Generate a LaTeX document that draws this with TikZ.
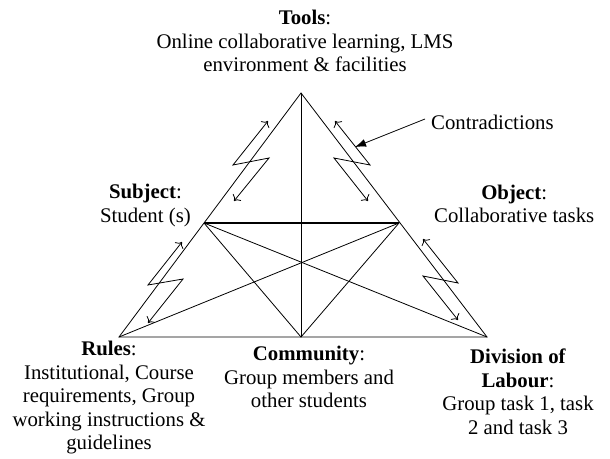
\documentclass[tikz,border=0pt]{standalone}
\usepackage{fontspec}
\setmainfont{Liberation Serif}
\usetikzlibrary{arrows.meta, positioning}

\begin{document}
\begin{tikzpicture}[
	x=1pt, y=-1pt,
	txt/.style={align=center, inner sep=0pt, font=\fontsize{20.8}{23.5}\selectfont},
	edge/.style={line width=0.8pt},
	bolt/.style={<->, line width=0.8pt, >={To[scale=1.5]}},
	]
	\useasboundingbox (0,0) rectangle (610,458);

	% corners of the activity system
	\coordinate (tools) at (301,93);
	\coordinate (subject) at (204,223);
	\coordinate (object) at (399,223);
	\coordinate (rules) at (119,337);
	\coordinate (community) at (301,337);
	\coordinate (division) at (487,337);

	\node (toolslbl) [txt, above=21pt of tools, xshift=4pt] {\textbf{Tools}:\\Online collaborative learning, LMS\\environment \& facilities};
	\node (subjectlbl) [txt, above left=-4pt and 13pt of subject] {\textbf{Subject}:\\Student (s)};
	\node (objectlbl) [txt, above right=0pt and 35pt of object] {\textbf{Object}:\\Collaborative tasks};
	\node (ruleslbl) [txt, below=4pt of rules, xshift=-10pt] {\textbf{Rules}:\\Institutional, Course\\requirements, Group\\working instructions \&\\guidelines};
	\node (communitylbl) [txt, below=9pt of community, xshift=8pt] {\textbf{Community}:\\Group members and\\other students};
	\node (divisionlbl) [txt, below=12pt of division, xshift=31pt] {\textbf{Division of}\\\textbf{Labour}:\\Group task 1, task\\2 and task 3};
	\node (contra) [txt, anchor=west] at (431,122) {Contradictions};
	\coordinate (contratip) at (355,147);

	\draw[edge] (tools) -- (rules) -- (division) -- cycle;
	\draw[edge] (tools) -- (community);
	\draw[line width=1.3pt] (subject) -- (object);
	\draw[edge] (subject) -- (community) -- (object);
	\draw[edge] (subject) -- (division);
	\draw[edge] (object) -- (rules);

	% contradictions between the corners
	\draw[bolt] (268,121) -- (233,165) -- (269,158) -- (234,201);
	\draw[bolt] (335,121) -- (370,165) -- (334,158) -- (368,201);
	\draw[bolt] (182,242) -- (148,285) -- (183,279) -- (148,323);
	\draw[bolt] (423,239) -- (458,283) -- (423,276) -- (458,320);
	\draw[edge, -{Latex[length=11pt, width=8pt]}] ([xshift=-6pt, yshift=3pt]contra.west) -- (contratip);
\end{tikzpicture}
\end{document}
